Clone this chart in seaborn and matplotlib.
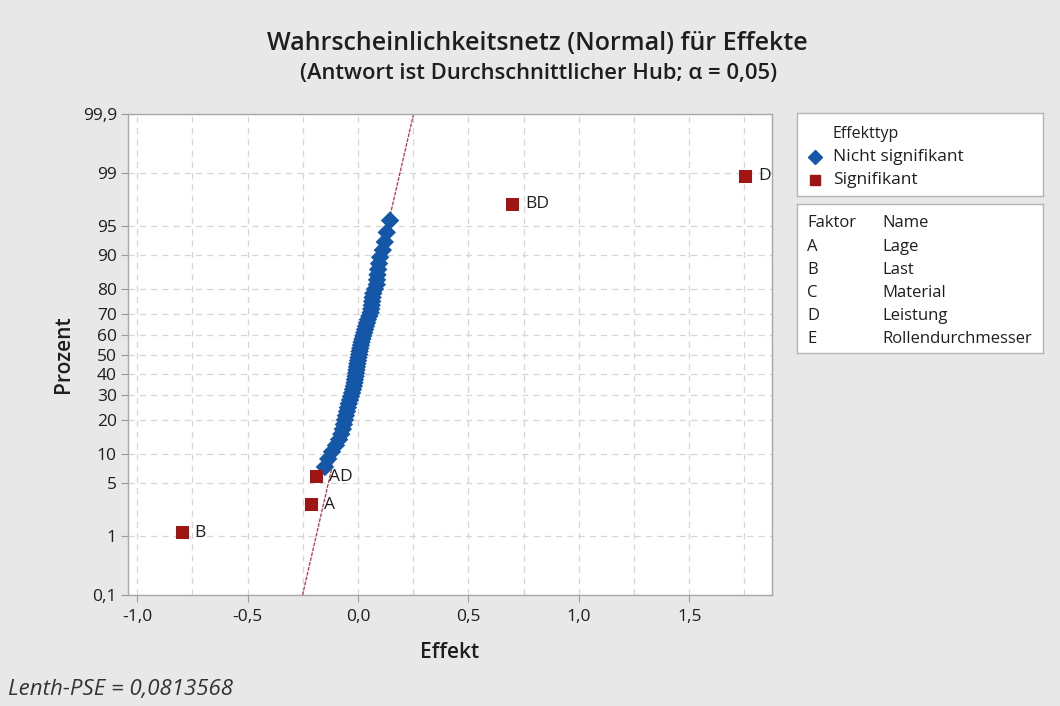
import matplotlib
matplotlib.use("Agg")
import matplotlib.pyplot as plt
import seaborn as sns
import pandas as pd
from statistics import NormalDist

# ---------------- data ----------------
n_effects = 63
sig_terms = ["B", "A", "AD", "BD", "D"]
sig_effects = [-0.797, -0.210, -0.190, 0.700, 1.757]
sig_ranks = [1, 2, 4, 62, 63]

nonsig_effects = [
    -0.150, -0.135, -0.118, -0.100, -0.086, -0.076, -0.069, -0.064, -0.059, -0.055,
    -0.050, -0.046, -0.042, -0.037, -0.032, -0.027, -0.023, -0.019, -0.016, -0.014,
    -0.011, -0.009, -0.007, -0.005, -0.003, 0.000, 0.002, 0.005, 0.007, 0.010,
    0.013, 0.016, 0.020, 0.024, 0.028, 0.032, 0.036, 0.041, 0.045, 0.051,
    0.057, 0.060, 0.062, 0.064, 0.066, 0.069, 0.077, 0.085, 0.086, 0.088,
    0.091, 0.095, 0.100, 0.112, 0.121, 0.130, 0.145,
]
nonsig_ranks = list(range(5, 62))

lenth_pse = 0.0813568
pct_ticks = [0.1, 1, 5, 10, 20, 30, 40, 50, 60, 70, 80, 90, 95, 99, 99.9]
pct_labels = ["0,1", "1", "5", "10", "20", "30", "40", "50", "60", "70", "80", "90", "95", "99", "99,9"]
x_ticks = [-1.0, -0.5, 0.0, 0.5, 1.0, 1.5]
x_labels = ["-1,0", "-0,5", "0,0", "0,5", "1,0", "1,5"]
factors = ["A", "B", "C", "D", "E"]
factor_names = ["Lage", "Last", "Material", "Leistung", "Rollendurchmesser"]

# ---------------- helpers ----------------
nd = NormalDist()
def score(rank):
    return nd.inv_cdf((rank - 0.3) / (n_effects + 0.4))

df = pd.DataFrame({
    "Effekt": nonsig_effects + sig_effects,
    "z": [score(r) for r in nonsig_ranks] + [score(r) for r in sig_ranks],
    "Typ": ["Nicht signifikant"] * len(nonsig_effects) + ["Signifikant"] * len(sig_effects),
})

BLUE = "#1457a8"
RED = "#a01414"
BG = "#e8e8e8"
TXT = "#1e1e1e"
FONT = ["Open Sans", "DejaVu Sans"]

sns.set_theme(style="white")
plt.rcParams["font.family"] = FONT

fig = plt.figure(figsize=(10.6, 7.06), dpi=100, facecolor=BG)
ax = fig.add_axes([128 / 1060, 1 - 595 / 706, (772 - 128) / 1060, (595 - 114) / 706])
ax.set_facecolor("white")

zlo, zhi = nd.inv_cdf(0.001), nd.inv_cdf(0.999)

# grid
for p in pct_ticks:
    ax.axhline(nd.inv_cdf(p / 100), color="#d6d6d6", lw=0.9, ls=(0, (5, 4)), zorder=0)
for xv in [-1.0 + 0.25 * k for k in range(12)]:
    ax.axvline(xv, color="#d6d6d6", lw=0.9, ls=(0, (5, 4)), zorder=0)

# reference line (effect = PSE * z)
line_df = pd.DataFrame({"Effekt": [lenth_pse * zlo, lenth_pse * zhi], "z": [zlo, zhi]})
sns.lineplot(data=line_df, x="Effekt", y="z", ax=ax, color="#c0303c", lw=0.9,
             linestyle=(0, (3, 1)), zorder=2, legend=False)

sns.scatterplot(data=df, x="Effekt", y="z", hue="Typ", style="Typ",
                palette={"Nicht signifikant": BLUE, "Signifikant": RED},
                markers={"Nicht signifikant": "D", "Signifikant": "s"},
                s=88, edgecolor="none", linewidth=0, ax=ax, zorder=3, legend=False)

for term, ev, r in zip(sig_terms, sig_effects, sig_ranks):
    ax.annotate(term, (ev, score(r)), xytext=(9, 0), textcoords="offset points",
                va="center", ha="left", fontsize=12.5, color=TXT)

ax.set_xlim(-1.042, 1.875)
ax.set_ylim(zlo, zhi)
ax.set_yticks([nd.inv_cdf(p / 100) for p in pct_ticks])
ax.set_yticklabels(pct_labels)
ax.set_xticks(x_ticks)
ax.set_xticklabels(x_labels)
ax.tick_params(axis="both", which="major", length=5, width=0.8, color="#9a9a9a",
               labelsize=12.5, labelcolor=TXT, direction="out", pad=3)
ax.tick_params(axis="x", pad=5)
ax.tick_params(left=True, bottom=True)
for s in ax.spines.values():
    s.set_color("#a8a8a8")
    s.set_linewidth(1.0)

ax.set_xlabel("Effekt", fontsize=15, fontweight="semibold", color=TXT, labelpad=12)
ax.set_ylabel("Prozent", fontsize=15, fontweight="semibold", color=TXT, labelpad=6)

# titles
fig.text(537 / 1060, 1 - 44 / 706, "Wahrscheinlichkeitsnetz (Normal) für Effekte",
         ha="center", va="center", fontsize=18, fontweight="semibold", color=TXT)
fig.text(539 / 1060, 1 - 73 / 706, "(Antwort ist Durchschnittlicher Hub; α = 0,05)",
         ha="center", va="center", fontsize=15.8, fontweight="semibold", color=TXT)

fig.text(8 / 1060, 1 - 690 / 706, "Lenth-PSE = 0,0813568", ha="left", va="center",
         fontsize=16, style="italic", color="#333333")

# legend boxes
def box(x0, y0, x1, y1):
    ax_b = fig.add_axes([x0 / 1060, 1 - y1 / 706, (x1 - x0) / 1060, (y1 - y0) / 706])
    ax_b.set_facecolor("white")
    ax_b.set_xticks([]); ax_b.set_yticks([])
    ax_b.set_xlim(x0, x1); ax_b.set_ylim(y1, y0)
    for s in ax_b.spines.values():
        s.set_color("#b4b4b4"); s.set_linewidth(1.0)
    return ax_b

b1 = box(797, 113, 1043, 196)
b1.text(833, 134, "Effekttyp", va="center", ha="left", fontsize=11.5, color=TXT)
b1.plot([815], [157], marker="D", color=BLUE, ms=7.5, ls="none")
b1.text(833, 157, "Nicht signifikant", va="center", ha="left", fontsize=12.5, color=TXT)
b1.plot([815], [180], marker="s", color=RED, ms=6.5, ls="none")
b1.text(833, 180, "Signifikant", va="center", ha="left", fontsize=12.5, color=TXT)

b2 = box(797, 204, 1043, 353)
b2.text(807, 223, "Faktor", va="center", ha="left", fontsize=12, color=TXT)
b2.text(882, 223, "Name", va="center", ha="left", fontsize=12, color=TXT)
for i, (f, nm) in enumerate(zip(factors, factor_names)):
    yy = 247 + i * 23
    b2.text(807, yy, f, va="center", ha="left", fontsize=12, color=TXT)
    b2.text(882, yy, nm, va="center", ha="left", fontsize=12, color=TXT)

fig.savefig("out.png", dpi=100, facecolor=BG)
